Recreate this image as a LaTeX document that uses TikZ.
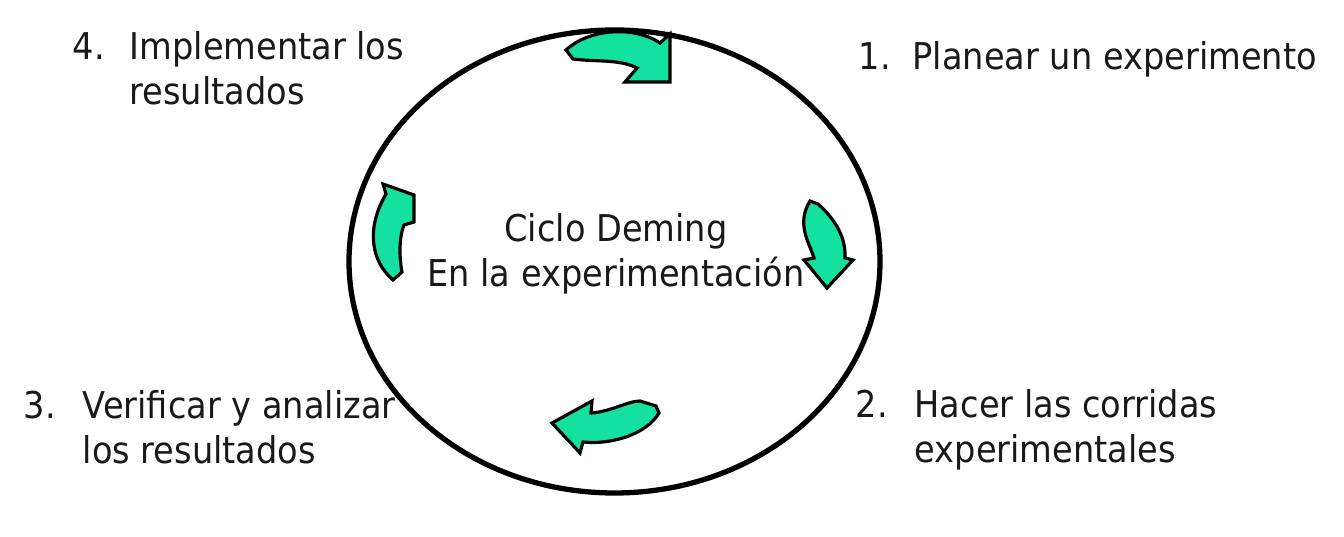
\documentclass[tikz,border=0pt]{standalone}
\usepackage{fontspec}
\setmainfont{DejaVu Sans}[FakeStretch=0.91]
\usepackage{tikz}
\definecolor{Cmint}{RGB}{20,224,160}
\definecolor{Ctxt}{RGB}{25,25,25}

\begin{document}
\begin{tikzpicture}[x=0.01cm,y=-0.01cm,
    lbl/.style={anchor=base west,inner sep=0pt,align=left,text=Ctxt,
      font=\fontsize{10.5}{12.8}\selectfont},
    turn/.style={fill=Cmint,draw=black,line width=0.9pt,line join=miter}]
  \useasboundingbox (0,0) rectangle (1344,537);
  \draw[line width=1.5pt] (614.5,261.5) ellipse [x radius=265.5, y radius=231.5];

  % the four steps (base of the last line)
  \node[lbl] (n1) at (858,70) {1.};
  \node[lbl] (s1) at (912,70) {Planear un experimento};
  \node[lbl] (n2) at (855,418) {2.};
  \node[lbl] (s2) at (914,463) {Hacer las corridas\\experimentales};
  \node[lbl] (n3) at (23,419) {3.};
  \node[lbl] (s3) at (82,464) {Verificar y analizar\\los resultados};
  \node[lbl] (n4) at (72,60) {4.};
  \node[lbl] (s4) at (129,105) {Implementar los\\resultados};
  \node[lbl,anchor=base,align=center] (mid) at (616,287)
    {Ciclo Deming\\En la experimentación};

  % curved arrows, clockwise
  \filldraw[turn] (566,50) .. controls (590,28) and (635,26) .. (660,43)
    -- (670,34) -- (670,82) -- (625,82) -- (637,68)
    .. controls (620,59) and (595,62) .. (573,59) -- cycle;
  \filldraw[turn] (810,201) -- (818,204) .. controls (836,220) and (846,238) .. (845,258)
    -- (853,260) -- (827,288) -- (804,260) -- (814,258)
    .. controls (809,242) and (796,224) .. (810,201) -- cycle;
  \filldraw[turn] (640,401) -- (656,406) -- (659,413)
    .. controls (646,435) and (610,445) .. (583,442)
    -- (580,453) -- (552,423) -- (592,401) -- (591,413)
    .. controls (610,412) and (628,401) .. (640,401) -- cycle;
  \filldraw[turn] (383,184) -- (414,195) -- (414,222) -- (404,225)
    .. controls (398,240) and (400,262) .. (402,272) -- (393,280)
    .. controls (372,262) and (365,230) .. (386,194) -- cycle;
\end{tikzpicture}
\end{document}
